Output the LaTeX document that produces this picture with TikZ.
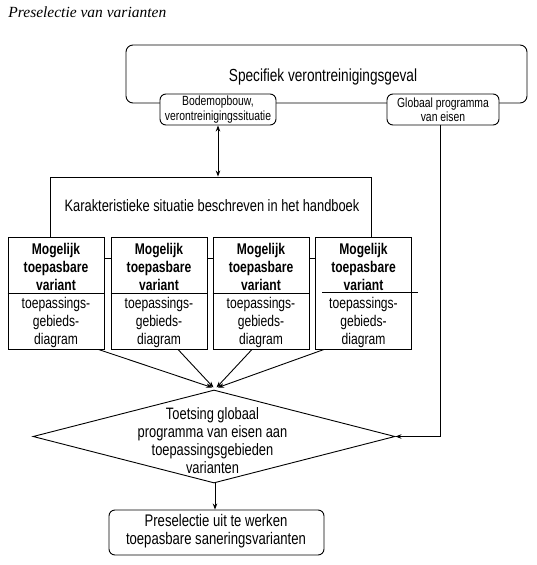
\documentclass[tikz,border=0pt]{standalone}
\usepackage{fontspec}
\usetikzlibrary{shapes.geometric,arrows.meta}
\newfontfamily\cond[FakeStretch=0.78]{Liberation Sans}
\newfontfamily\titlefont{Liberation Serif}
\begin{document}
\begin{tikzpicture}[x=1pt,y=-1pt,
  line width=0.9pt,
  arr/.style={-{Stealth[length=6pt,width=4.5pt]}},
  darr/.style={{Stealth[length=6pt,width=4.5pt]}-{Stealth[length=6pt,width=4.5pt]}},
  rbox/.style={draw,rounded corners=6pt,fill=white,inner sep=0pt},
  sbox/.style={draw,fill=white,inner sep=0pt},
  varbox/.style={sbox,minimum width=96pt,minimum height=112pt},
  lbl/.style={inner sep=0pt,align=center},
  vtext/.style={lbl,font=\cond\fontsize{15.5}{18}\selectfont},
  stext/.style={lbl,font=\cond\fontsize{13.3}{14.3}\selectfont}
]
\useasboundingbox (0,0) rectangle (537,565);
% title
\node[anchor=west,inner sep=0pt,font=\titlefont\itshape\fontsize{15.5}{18}\selectfont] (title) at (8,12) {Preselectie van varianten};
% top box
\node[draw,rounded corners=7pt,minimum width=401pt,minimum height=58pt,inner sep=0pt] (top) at (326.5,74) {};
\node[lbl,font=\cond\fontsize{17.5}{21}\selectfont] (toplbl) at (323,77) {Specifiek verontreinigingsgeval};
\node[rbox,stext,minimum width=116pt,minimum height=31pt] (bodem) at (218,109.5) {Bodemopbouw,\\verontreinigingssituatie};
\node[rbox,stext,minimum width=112pt,minimum height=31pt] (glob) at (443,109.5) {Globaal programma\\van eisen};
% karakteristieke situatie box
\node[draw,minimum width=321pt,minimum height=81pt,inner sep=0pt] (kar) at (210.5,217.5) {};
\node[lbl,font=\cond\fontsize{16.5}{20}\selectfont] (karlbl) at (212,206) {Karakteristieke situatie beschreven in het handboek};
% variant boxes
\foreach \i/\x in {1/56,2/159,3/261,4/363.5}{
  \node[varbox] (v\i) at (\x,293) {};
  \node[vtext,font=\cond\bfseries\fontsize{15.5}{18}\selectfont] (vu\i) at (\x,267) {Mogelijk\\toepasbare\\variant};
  \node[vtext] (vl\i) at (\x,322) {toepassings-\\gebieds-\\diagram};
}
\foreach \i in {1,2,3}{
  \draw ([yshift=-0.3pt]v\i.west) -- ([yshift=-0.3pt]v\i.east);
}
\coordinate (d4a) at (322,292.7);
\coordinate (d4b) at (418,292.7);
\draw (d4a) -- (d4b);
% diamond
\node[draw,diamond,minimum width=362pt,minimum height=93pt,inner sep=0pt] (dia) at (214,436.5) {};
\node[lbl,font=\cond\fontsize{16.5}{18.2}\selectfont] (dialbl) at (212.5,440.5) {Toetsing globaal\\programma van eisen aan\\toepassingsgebieden\\varianten};
% final box
\node[draw,rounded corners=6pt,minimum width=215pt,minimum height=45pt,inner sep=0pt] (pre) at (216.5,532.5) {};
\node[lbl,font=\cond\fontsize{16.8}{18.5}\selectfont] (prelbl) at (216,531) {Preselectie uit te werken\\toepasbare saneringsvarianten};
% connectors
\draw[darr] (bodem.south) -- (kar.north -| bodem.south);
\coordinate (e1) at (212,387.5);
\coordinate (e2) at (213.5,387.5);
\coordinate (e3) at (216.5,387.5);
\coordinate (e4) at (218,387.5);
\draw[arr] ([xshift=-6pt]v1.south east) -- (e1);
\draw[arr] ([xshift=19pt]v2.south) -- (e2);
\draw[arr] ([xshift=-9pt]v3.south) -- (e3);
\draw[arr] ([xshift=9pt]v4.south west) -- (e4);
\draw[arr] ([xshift=-3pt]glob.south) |- (dia.east);
\draw[arr] ([xshift=1pt]dia.south) -- ([xshift=1pt]dia.south |- pre.north);
\end{tikzpicture}
\end{document}
